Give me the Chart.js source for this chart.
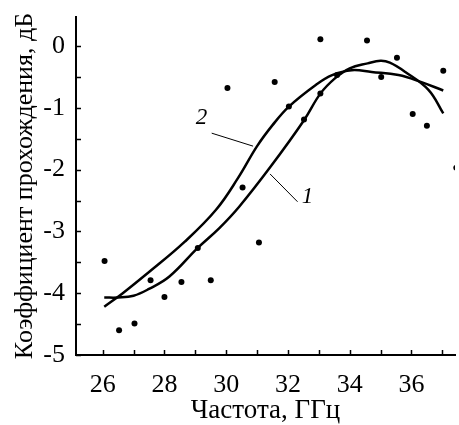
<!DOCTYPE html>
<html>
<head>
<meta charset="utf-8">
<script src="https://cdn.jsdelivr.net/npm/chart.js@4.4.1/dist/chart.umd.min.js"></script>
<style>
body{margin:0;background:#fff;}
#wrap{width:459px;height:425px;}
</style>
</head>
<body>
<div id="wrap"><canvas id="graph_data"></canvas></div>
<script>
// measured points
var pointFreq = [26.06, 26.53, 27.03, 27.55, 28.0, 28.55, 29.08, 29.5, 30.04, 30.53, 31.06, 31.57, 32.03, 32.52, 33.05, 33.05, 33.59, 34.56, 35.02, 35.53, 36.04, 36.5, 37.03, 37.45];
var pointLoss = [-3.48, -4.6, -4.49, -3.79, -4.06, -3.82, -3.27, -3.79, -0.68, -2.29, -3.18, -0.58, -0.98, -1.19, 0.11, -0.77, -0.47, 0.09, -0.5, -0.19, -1.1, -1.29, -0.4, -1.97];

// curve 1
var curve1Freq = [26.05, 26.5, 27.0, 27.5, 28.16, 29.07, 29.77, 30.42, 31.44, 32.52, 33.05, 33.53, 34.0, 34.58, 35.0, 35.3, 35.8, 36.55, 37.03];
var curve1Loss = [-4.07, -4.07, -4.04, -3.93, -3.73, -3.27, -2.95, -2.6, -1.95, -1.2, -0.77, -0.52, -0.36, -0.28, -0.24, -0.27, -0.42, -0.71, -1.09];

// curve 2
var curve2Freq = [26.05, 26.65, 27.52, 28.65, 29.67, 30.39, 31.0, 31.5, 32.03, 32.9, 33.43, 34.07, 34.71, 35.58, 36.3, 37.03];
var curve2Loss = [-4.22, -4.0, -3.65, -3.17, -2.65, -2.13, -1.62, -1.28, -0.98, -0.63, -0.47, -0.39, -0.42, -0.47, -0.58, -0.72];

var xTicks = [26, 27, 28, 29, 30, 31, 32, 33, 34, 35, 36, 37];
var yTicks = [-5, -4.5, -4, -3.5, -3, -2.5, -2, -1.5, -1, -0.5, 0];

var serif = '"Liberation Serif", "Times New Roman", serif';

function toXY(xs, ys){
    return xs.map(function(x, i){ return {x: x, y: ys[i]}; });
}

// ticks pointing into the plot
var innerTicks = {
    id: 'innerTicks',
    afterDraw: function(chart){
        var ctx = chart.ctx;
        var xs = chart.scales.x, ys = chart.scales.y;
        var area = chart.chartArea;
        ctx.save();
        ctx.strokeStyle = '#000';
        ctx.lineWidth = 1.5;
        ctx.beginPath();
        xs.ticks.forEach(function(t){
            var px = Math.round(xs.getPixelForValue(t.value)) + 0.5;
            ctx.moveTo(px, area.bottom);
            ctx.lineTo(px, area.bottom - 5);
        });
        ys.ticks.forEach(function(t){
            var py = Math.round(ys.getPixelForValue(t.value)) + 0.5;
            ctx.moveTo(area.left, py);
            ctx.lineTo(area.left + 5, py);
        });
        ctx.stroke();
        ctx.restore();
    }
};

// the "1" and "2" curve labels with their leader lines
var curveLabels = {
    id: 'curveLabels',
    afterDraw: function(chart){
        var ctx = chart.ctx;
        var xs = chart.scales.x, ys = chart.scales.y;
        var marks = [
            {text: '2', at: [29.2, -1.17], from: [29.53, -1.41], to: [30.87, -1.62]},
            {text: '1', at: [32.63, -2.44], from: [31.42, -2.07], to: [32.31, -2.52]}
        ];
        ctx.save();
        ctx.strokeStyle = '#000';
        ctx.fillStyle = '#000';
        ctx.lineWidth = 1;
        ctx.font = 'italic 23px ' + serif;
        ctx.textAlign = 'center';
        ctx.textBaseline = 'middle';
        marks.forEach(function(m){
            ctx.beginPath();
            ctx.moveTo(xs.getPixelForValue(m.from[0]), ys.getPixelForValue(m.from[1]));
            ctx.lineTo(xs.getPixelForValue(m.to[0]), ys.getPixelForValue(m.to[1]));
            ctx.stroke();
            ctx.fillText(m.text, xs.getPixelForValue(m.at[0]), ys.getPixelForValue(m.at[1]));
        });
        ctx.restore();
    }
};

var lineStyle = {
    showLine: true,
    borderColor: '#000',
    borderWidth: 2.5,
    pointRadius: 0,
    tension: 0.4,
    fill: false
};

const data = {
    datasets: [
        Object.assign({label: '1', data: toXY(curve1Freq, curve1Loss)}, lineStyle),
        Object.assign({label: '2', data: toXY(curve2Freq, curve2Loss)}, lineStyle),
        {
            label: 'points',
            data: toXY(pointFreq, pointLoss),
            showLine: false,
            pointRadius: 3,
            pointBackgroundColor: '#000',
            pointBorderColor: '#000',
            pointBorderWidth: 0
        }
    ]
};

const cfg = {
    type: 'scatter',
    data: data,
    options: {
        responsive: true,
        maintainAspectRatio: false,
        animation: false,
        layout: {padding: {left: 0, top: 17, right: 0, bottom: 0}},
        plugins: {
            legend: {display: false},
            tooltip: {enabled: false}
        },
        scales: {
            x: {
                type: 'linear',
                min: 25.135,
                max: 37.41,
                afterBuildTicks: function(s){ s.ticks = xTicks.map(function(v){ return {value: v}; }); },
                afterFit: function(s){ s.height = 70; s.paddingLeft = 0; s.paddingRight = 0; },
                grid: {display: false, drawTicks: false},
                border: {display: true, color: '#000', width: 2},
                ticks: {
                    color: '#000',
                    font: {family: serif, size: 26},
                    padding: 15,
                    maxRotation: 0,
                    autoSkip: false,
                    callback: function(v){ return v % 2 === 0 ? String(v) : ''; }
                },
                title: {
                    display: true,
                    text: 'Частота, ГГц',
                    color: '#000',
                    font: {family: serif, size: 27},
                    padding: {top: 0, bottom: -2}
                }
            },
            y: {
                type: 'linear',
                min: -5,
                max: 0.47,
                afterBuildTicks: function(s){ s.ticks = yTicks.map(function(v){ return {value: v}; }); },
                afterFit: function(s){ s.width = 76; s.paddingTop = 0; s.paddingBottom = 0; },
                grid: {display: false, drawTicks: false},
                border: {display: true, color: '#000', width: 2},
                ticks: {
                    color: '#000',
                    font: {family: serif, size: 26},
                    padding: 11,
                    autoSkip: false,
                    callback: function(v){ return Number.isInteger(v) ? String(v) : ''; }
                },
                title: {
                    display: true,
                    text: 'Коэффициент прохождения, дБ',
                    color: '#000',
                    font: {family: serif, size: 26},
                    padding: {top: 10, bottom: 0}
                }
            }
        }
    },
    plugins: [innerTicks, curveLabels]
};

var chart = new Chart(document.getElementById('graph_data'), cfg);
</script>
</body>
</html>
